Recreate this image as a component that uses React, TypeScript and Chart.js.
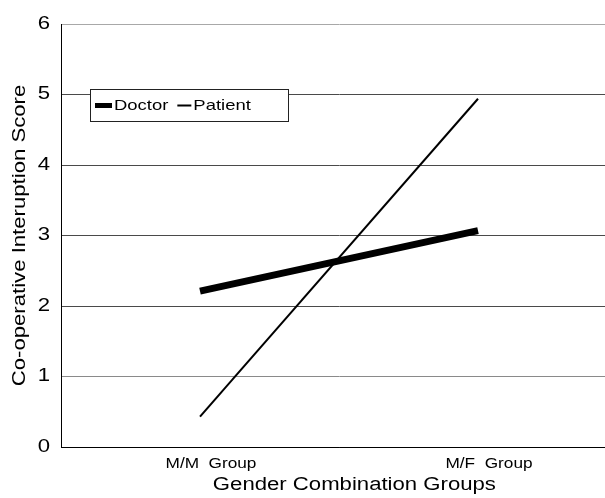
import React, { useEffect, useRef } from "react";
import { Chart, registerables } from "chart.js";

Chart.register(...registerables);

const categories = ["M/M  Group", "M/F  Group"];
const seriesNames = ["Doctor", "Patient"];
const doctorScores = [2.21, 3.07];
const patientScores = [0.43, 4.94];
const yMin = 0;
const yMax = 6;
const yStep = 1;
const xTitle = "     Gender Combination Groups";
const yTitle = "Co-operative Interuption Score";

const FONT = "'Liberation Sans', Arial, Helvetica, sans-serif";
const STRETCH = 1.23;

// Text in the reference is set in a horizontally widened face; emulate by
// scaling each text draw along its baseline direction.
const stretchPlugin = {
  id: "stretchText",
  beforeDraw(chart: any) {
    const ctx: any = chart.ctx;
    if (ctx.__stretched) return;
    const orig = ctx.fillText;
    ctx.fillText = function (text: string, x: number, y: number, mw?: number) {
      this.save();
      this.translate(x, y);
      this.scale(STRETCH, 1);
      if (mw === undefined || mw === null) orig.call(this, text, 0, 0);
      else orig.call(this, text, 0, 0, mw / STRETCH);
      this.restore();
    };
    ctx.__stretched = true;
  },
};

const boxLegend = {
  id: "boxLegend",
  afterDatasetsDraw(chart: any) {
    const { ctx, chartArea } = chart;
    const x0 = chartArea.left + 29;
    const y0 = chartArea.top + 65;
    const w = 198;
    const h = 32;
    ctx.save();
    ctx.fillStyle = "#ffffff";
    ctx.fillRect(x0, y0, w, h);
    ctx.strokeStyle = "#222222";
    ctx.lineWidth = 1;
    ctx.strokeRect(x0 + 0.5, y0 + 0.5, w, h);
    ctx.font = `15px ${FONT}`;
    ctx.textBaseline = "middle";
    ctx.textAlign = "left";
    const cy = y0 + h / 2 + 0.5;
    let x = x0 + 5;
    chart.data.datasets.forEach((ds: any, i: number) => {
      const thick = ds.borderWidth > 3 ? 5 : 2;
      const len = i === 0 ? 17 : 14;
      ctx.fillStyle = ds.borderColor;
      ctx.fillRect(x, cy - thick / 2, len, thick);
      x += len + 2;
      ctx.fillStyle = "#000";
      ctx.fillText(ds.label, x, cy);
      x += ctx.measureText(ds.label).width * STRETCH + 9;
    });
    ctx.restore();
  },
};

export default function App() {
  const ref = useRef<HTMLCanvasElement | null>(null);

  useEffect(() => {
    if (!ref.current) return;
    const chart = new Chart(ref.current, {
      type: "line",
      data: {
        labels: categories,
        datasets: [
          {
            label: seriesNames[0],
            data: doctorScores,
            borderColor: "#000000",
            backgroundColor: "#000000",
            borderWidth: 7,
            borderCapStyle: "butt",
            pointRadius: 0,
            tension: 0,
          },
          {
            label: seriesNames[1],
            data: patientScores,
            borderColor: "#000000",
            backgroundColor: "#000000",
            borderWidth: 2,
            borderCapStyle: "butt",
            pointRadius: 0,
            tension: 0,
          },
        ],
      },
      options: {
        responsive: false,
        animation: false,
        layout: { padding: { top: 24, left: 0, right: 0, bottom: 0 } },
        plugins: {
          legend: { display: false },
          tooltip: { enabled: false },
        },
        scales: {
          x: {
            offset: true,
            grid: { display: false, drawTicks: false },
            border: { display: true, color: "#000000", width: 1 },
            ticks: {
              color: "#000000",
              font: { family: FONT, size: 14 },
              padding: 9,
              labelOffset: 11,
              maxRotation: 0,
              autoSkip: false,
            },
            title: {
              display: true,
              text: xTitle,
              color: "#000000",
              font: { family: FONT, size: 18 },
              padding: { top: 0, bottom: 2 },
            },
            afterFit: (s: any) => {
              s.height = 51;
            },
          },
          y: {
            min: yMin,
            max: yMax,
            ticks: {
              stepSize: yStep,
              color: "#000000",
              font: { family: FONT, size: 18 },
              padding: 11,
            },
            grid: {
              drawTicks: false,
              lineWidth: 1,
              color: (c: any) => {
                const v = c.tick ? c.tick.value : null;
                if (v === 6) return "#a8a8a8";
                if (v === 1) return "#8a8a8a";
                if (v === 0) return "#000000";
                return "#4a4a4a";
              },
            },
            border: { display: true, color: "#000000", width: 1 },
            title: {
              display: true,
              text: yTitle,
              color: "#000000",
              font: { family: FONT, size: 18 },
              padding: { top: 9, bottom: 0 },
            },
            afterFit: (s: any) => {
              s.width = 61;
            },
          },
        },
      },
      plugins: [stretchPlugin, boxLegend],
    });
    return () => chart.destroy();
  }, []);

  return (
    <div
      style={{
        position: "fixed",
        left: 0,
        top: 0,
        width: 605,
        height: 498,
        overflow: "hidden",
        background: "#ffffff",
      }}
    >
      <canvas ref={ref} width={617} height={498} style={{ display: "block" }} />
    </div>
  );
}
